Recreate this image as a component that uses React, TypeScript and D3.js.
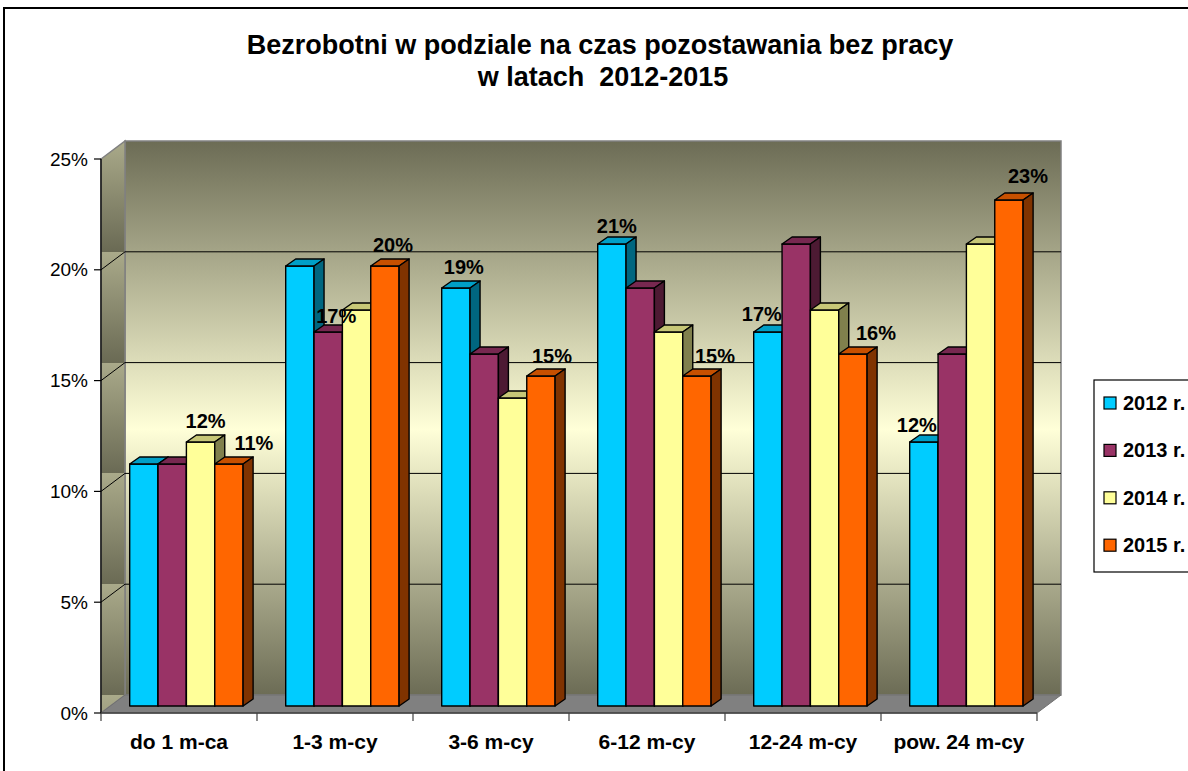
import React from "react";
import * as d3 from "d3";

const categories = ["do 1 m-ca", "1-3 m-cy", "3-6 m-cy", "6-12 m-cy", "12-24 m-cy", "pow. 24 m-cy"];
const seriesNames = ["2012 r.", "2013 r.", "2014 r.", "2015 r."];
const values2012 = [11, 20, 19, 21, 17, 12];
const values2013 = [11, 17, 16, 19, 21, 16];
const values2014 = [12, 18, 14, 17, 18, 21];
const values2015 = [11, 20, 15, 15, 16, 23];
const yTicks = [0, 5, 10, 15, 20, 25];
// data labels visible in the original: [category index, series index]
const shownLabels: [number, number][] = [
  [0, 2], [0, 3], [1, 1], [1, 3], [2, 0], [2, 3],
  [3, 0], [3, 3], [4, 0], [4, 3], [5, 0], [5, 3],
];

// layout (manual label nudges, as placed in the source chart)
const labelNudge: [number, number][] = [
  [0, 0], [20, 0], [3, 5], [3, 0], [3, 0], [6, 1],
  [0, 3], [13, 1], [-11, 3], [18, 0], [-12, 4], [14, -3],
];

const seriesValues = [values2012, values2013, values2014, values2015];
const seriesColors = ["#00CCFF", "#993366", "#FFFF99", "#FF6600"];

const W = 1188;
const H = 771;
const FONT = "'Liberation Sans', Arial, Helvetica, sans-serif";

export default function App() {
  const x0 = 101;
  const x1 = 1037;
  const DX = 24;
  const DY = -18;
  const y = d3.scaleLinear().domain([0, 25]).range([713, 159]);
  const yBar = d3.scaleLinear().domain([0, 25]).range([706, 156]);
  const xCat = d3.scaleBand<string>().domain(categories).range([x0, x1]).padding(0);
  const groupOffset = 28.7;
  const xSeries = d3.scaleBand<string>().domain(seriesNames).range([0, 113.4]).padding(0);
  const bw = xSeries.bandwidth();
  const bDX = 10;
  const bDY = -7;

  const shade = (c: string, k: number) => {
    const r = d3.rgb(c);
    return d3.rgb(r.r * k, r.g * k, r.b * k).formatHex();
  };

  const wallTop = y(25) + DY;
  const wallBot = y(0) + DY;
  const bandH = y(0) - y(5);

  const bars: React.ReactNode[] = [];
  categories.forEach((cat, ci) => {
    seriesNames.forEach((s, si) => {
      const v = seriesValues[si][ci];
      const bx0 = (xCat(cat) as number) + groupOffset + (xSeries(s) as number);
      const bx1 = bx0 + bw;
      const yt = yBar(v);
      const yb = yBar(0);
      const c = seriesColors[si];
      bars.push(
        <g key={`b-${ci}-${si}`} stroke="#000" strokeWidth={1.4} strokeLinejoin="round">
          <rect x={bx0} y={yt} width={bw} height={yb - yt} fill={c} />
          <polygon
            points={`${bx0},${yt} ${bx1},${yt} ${bx1 + bDX},${yt + bDY} ${bx0 + bDX},${yt + bDY}`}
            fill={shade(c, 0.78)}
          />
          <polygon
            points={`${bx1},${yt} ${bx1 + bDX},${yt + bDY} ${bx1 + bDX},${yb + bDY} ${bx1},${yb}`}
            fill={shade(c, 0.5)}
          />
        </g>
      );
    });
  });

  const labels = shownLabels.map(([ci, si], i) => {
    const v = seriesValues[si][ci];
    const bx0 = (xCat(categories[ci]) as number) + groupOffset + (xSeries(seriesNames[si]) as number);
    const cx = bx0 + bw / 2 + bDX / 2 + labelNudge[i][0];
    const cy = yBar(v) - 21 + labelNudge[i][1];
    return (
      <text
        key={`l-${i}`}
        x={cx}
        y={cy}
        dy="0.35em"
        textAnchor="middle"
        fontFamily={FONT}
        fontWeight="bold"
        fontSize={20}
        fill="#000"
      >
        {`${v}%`}
      </text>
    );
  });

  return (
    <svg
      width={W}
      height={H}
      style={{ position: "absolute", left: 0, top: 0, background: "#fff" }}
    >
      <defs>
        <linearGradient id="backWall" x1="0" y1={wallTop} x2="0" y2={wallBot} gradientUnits="userSpaceOnUse">
          <stop offset="0" stopColor="#6C6C55" />
          <stop offset="0.52" stopColor="#FFFFD8" />
          <stop offset="1" stopColor="#6C6C55" />
        </linearGradient>
        <linearGradient
          id="sideWall"
          x1="0"
          y1={wallTop}
          x2="0"
          y2={wallTop + bandH}
          gradientUnits="userSpaceOnUse"
          spreadMethod="repeat"
        >
          <stop offset="0" stopColor="#AAAA8A" />
          <stop offset="1" stopColor="#6A6A54" />
        </linearGradient>
      </defs>

      {/* outer chart border */}
      <rect x={4} y={8} width={W + 20} height={H + 20} fill="#fff" stroke="#000" strokeWidth={2} />

      {/* title */}
      <text x={600} y={54} textAnchor="middle" fontFamily={FONT} fontWeight="bold" fontSize={27}>
        Bezrobotni w podziale na czas pozostawania bez pracy
      </text>
      <text x={603} y={86} textAnchor="middle" fontFamily={FONT} fontWeight="bold" fontSize={27} style={{ whiteSpace: "pre" }}>
        {"w latach  2012-2015"}
      </text>

      {/* back wall */}
      <polygon
        points={`${x0 + DX},${wallTop} ${x1 + DX},${wallTop} ${x1 + DX},${wallBot} ${x0 + DX},${wallBot}`}
        fill="url(#backWall)"
        stroke="#808080"
        strokeWidth={1.5}
      />
      {/* side wall */}
      <polygon
        points={`${x0},${y(25)} ${x0 + DX},${wallTop} ${x0 + DX},${wallBot} ${x0},${y(0)}`}
        fill="url(#sideWall)"
        stroke="#808080"
        strokeWidth={1.5}
      />
      {/* gridlines */}
      {yTicks.filter((t) => t > 0 && t < 25).map((t) => (
        <g key={`g-${t}`} stroke="#000" strokeWidth={1}>
          <line x1={x0} y1={y(t)} x2={x0 + DX} y2={y(t) + DY} />
          <line x1={x0 + DX} y1={y(t) + DY} x2={x1 + DX} y2={y(t) + DY} />
        </g>
      ))}
      {/* floor */}
      <polygon
        points={`${x0},${y(0)} ${x1},${y(0)} ${x1 + DX},${wallBot} ${x0 + DX},${wallBot}`}
        fill="#808080"
        stroke="#707070"
        strokeWidth={1}
      />

      {/* value axis */}
      <line x1={x0} y1={y(25)} x2={x0} y2={y(0)} stroke="#000" strokeWidth={1.3} />
      {yTicks.map((t) => (
        <g key={`t-${t}`}>
          <line x1={x0 - 7} y1={y(t)} x2={x0} y2={y(t)} stroke="#000" strokeWidth={1.2} />
          <text
            x={88}
            y={y(t)}
            dy="0.35em"
            textAnchor="end"
            fontFamily={FONT}
            fontSize={19}
            fill="#000"
          >
            {`${t}%`}
          </text>
        </g>
      ))}

      {/* category axis */}
      <line x1={x0} y1={y(0)} x2={x1} y2={y(0)} stroke="#404040" strokeWidth={1.3} />
      {[...categories.map((c) => xCat(c) as number), x1].map((xv, i) => (
        <line key={`ct-${i}`} x1={xv} y1={y(0)} x2={xv} y2={y(0) + 8} stroke="#404040" strokeWidth={1.2} />
      ))}
      {categories.map((c) => (
        <text
          key={`cl-${c}`}
          x={(xCat(c) as number) + xCat.bandwidth() / 2}
          y={749}
          textAnchor="middle"
          fontFamily={FONT}
          fontWeight="bold"
          fontSize={21}
          fill="#000"
        >
          {c}
        </text>
      ))}

      {bars}
      {labels}

      {/* legend */}
      <rect x={1094} y={380} width={120} height={192} fill="#fff" stroke="#000" strokeWidth={1.2} />
      {seriesNames.map((s, i) => {
        const cy = 403 + i * 47.4;
        return (
          <g key={`lg-${s}`}>
            <rect x={1104} y={cy - 6} width={12} height={12} fill={seriesColors[i]} stroke="#000" strokeWidth={1.2} />
            <text x={1123} y={cy} dy="0.35em" fontFamily={FONT} fontWeight="bold" fontSize={20} fill="#000">
              {s}
            </text>
          </g>
        );
      })}
    </svg>
  );
}
